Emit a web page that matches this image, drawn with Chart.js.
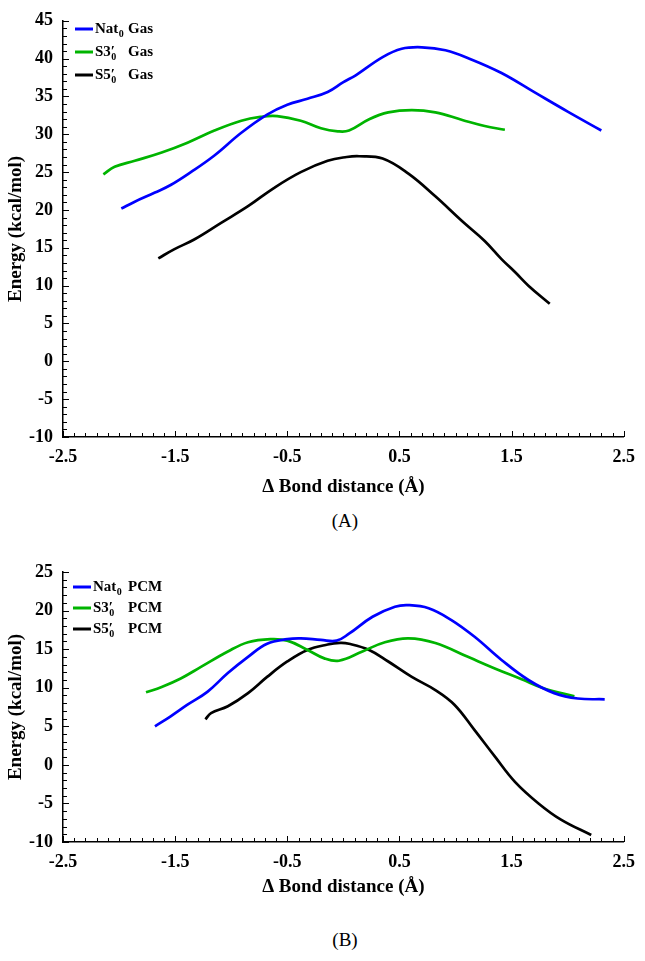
<!DOCTYPE html>
<html>
<head>
<meta charset="utf-8">
<script src="https://cdn.jsdelivr.net/npm/chart.js@4.4.1/dist/chart.umd.min.js"></script>
<style>
  body { margin: 0; background: #fff; width: 645px; height: 961px; position: relative; overflow: hidden; }
  canvas { position: absolute; left: 0; }
  #chartA { top: 0; }
  #chartB { top: 540px; }
  .cap { position: absolute; left: 0; width: 690px; text-align: center;
         font: 19px 'Liberation Serif', 'Times New Roman', serif; color: #000; line-height: 22px; }
  #capA { top: 510px; }
  #capB { top: 929px; }
</style>
</head>
<body>
<canvas id="chartA" width="645" height="500"></canvas>
<canvas id="chartB" width="645" height="360"></canvas>
<div class="cap" id="capA">(A)</div>
<div class="cap" id="capB">(B)</div>
<script>
// ---- data ----
const xTicks = [-2.5, -1.5, -0.5, 0.5, 1.5, 2.5];
const yTicksA = [-10, -5, 0, 5, 10, 15, 20, 25, 30, 35, 40, 45];
const yTicksB = [-10, -5, 0, 5, 10, 15, 20, 25];

const seriesNames = ['Nat', 'S3', 'S5'];
const seriesPrime = [false, true, true];
const seriesSub = '0';
const suffixA = 'Gas';
const suffixB = 'PCM';
const lineColors = ['#0000FF', '#00B400', '#000000'];

// (A) gas phase
const natGasX = [-1.98, -1.86, -1.68, -1.54, -1.36, -1.15, -0.91, -0.68, -0.50, -0.32, -0.14, 0.00, 0.11, 0.35, 0.52, 0.70, 0.91, 1.14, 1.41, 1.71, 2.00, 2.30];
const natGasY = [20.2, 21.1, 22.3, 23.3, 25.0, 27.2, 30.2, 32.6, 33.9, 34.7, 35.6, 36.9, 37.8, 40.2, 41.3, 41.5, 41.1, 39.9, 38.1, 35.5, 33.0, 30.5];
const s3GasX = [-2.14, -2.04, -1.86, -1.62, -1.39, -1.15, -0.91, -0.74, -0.59, -0.38, -0.20, -0.05, 0.05, 0.23, 0.40, 0.61, 0.82, 1.06, 1.26, 1.44];
const s3GasY = [24.7, 25.7, 26.5, 27.6, 28.9, 30.5, 31.8, 32.3, 32.4, 31.8, 30.8, 30.4, 30.5, 32.0, 32.9, 33.2, 32.9, 31.9, 31.1, 30.6];
const s5GasX = [-1.65, -1.51, -1.33, -1.09, -0.85, -0.62, -0.38, -0.14, 0.03, 0.14, 0.35, 0.58, 0.82, 1.06, 1.26, 1.41, 1.53, 1.65, 1.84];
const s5GasY = [13.6, 14.8, 16.1, 18.3, 20.5, 22.9, 25.0, 26.5, 27.0, 27.1, 26.8, 24.8, 21.8, 18.5, 15.9, 13.5, 11.8, 10.0, 7.6];

// (B) PCM
const natPcmX = [-1.68, -1.54, -1.39, -1.21, -1.03, -0.85, -0.68, -0.50, -0.38, -0.20, -0.06, 0.05, 0.26, 0.46, 0.58, 0.76, 0.96, 1.17, 1.41, 1.65, 1.88, 2.09, 2.33];
const natPcmY = [5.0, 6.3, 7.8, 9.5, 11.9, 14.0, 15.7, 16.3, 16.4, 16.2, 16.1, 17.0, 19.2, 20.5, 20.7, 20.3, 18.8, 16.6, 13.6, 11.0, 9.3, 8.6, 8.5];
const s3PcmX = [-1.76, -1.62, -1.45, -1.27, -1.03, -0.85, -0.65, -0.50, -0.32, -0.17, -0.04, 0.17, 0.37, 0.58, 0.82, 1.11, 1.35, 1.59, 1.79, 2.06];
const s3PcmY = [9.4, 10.1, 11.2, 12.7, 14.7, 15.9, 16.3, 16.1, 14.9, 13.8, 13.5, 14.7, 15.9, 16.4, 15.8, 14.0, 12.5, 11.1, 9.9, 8.9];
const s5PcmX = [-1.23, -1.18, -1.03, -0.85, -0.68, -0.50, -0.32, -0.14, -0.03, 0.05, 0.23, 0.40, 0.61, 0.82, 0.99, 1.17, 1.35, 1.53, 1.74, 1.94, 2.21];
const s5PcmY = [5.9, 6.7, 7.6, 9.3, 11.4, 13.4, 14.9, 15.6, 15.8, 15.7, 14.9, 13.4, 11.4, 9.7, 7.8, 4.5, 1.1, -2.2, -5.0, -7.1, -9.1];

const FONT = "'Liberation Serif', 'Times New Roman', serif";

function pairs(xs, ys) {
  return xs.map((x, i) => ({ x: x, y: ys[i] }));
}

// Excel-style tick marks pointing into the plot
const innerTicks = {
  id: 'innerTicks',
  afterDraw(chart) {
    const { ctx, chartArea: a, scales: { x, y } } = chart;
    ctx.save();
    ctx.strokeStyle = '#000';
    ctx.lineWidth = 1;
    ctx.beginPath();
    for (let i = 0; i <= 50; i++) {
      const px = Math.round(x.getPixelForValue(x.min + i * 0.1)) + 0.5;
      const len = i % 10 === 0 ? 6 : 4;
      ctx.moveTo(px, a.bottom);
      ctx.lineTo(px, a.bottom - len);
    }
    for (let v = y.min; v <= y.max; v++) {
      const py = Math.round(y.getPixelForValue(v)) + 0.5;
      const len = v % 5 === 0 ? 6 : 4;
      ctx.moveTo(a.left, py);
      ctx.lineTo(a.left + len, py);
    }
    ctx.stroke();
    ctx.restore();
  }
};

// legend with subscripts and primes
const subLegend = {
  id: 'subLegend',
  afterDraw(chart, args, o) {
    const ctx = chart.ctx;
    ctx.save();
    ctx.textBaseline = 'middle';
    chart.data.datasets.forEach((ds, i) => {
      const yy = o.top + i * o.gap;
      ctx.strokeStyle = ds.borderColor;
      ctx.lineWidth = 3;
      ctx.beginPath();
      ctx.moveTo(o.lineX0, yy);
      ctx.lineTo(o.lineX1, yy);
      ctx.stroke();
      ctx.fillStyle = '#000';
      ctx.font = 'bold 15px ' + FONT;
      ctx.fillText(seriesNames[i], o.textX, yy);
      let px = o.textX + ctx.measureText(seriesNames[i]).width;
      if (seriesPrime[i]) {
        ctx.fillText('\u2032', px, yy);
      }
      ctx.font = 'bold 10px ' + FONT;
      ctx.fillText(seriesSub, px + 0.5, yy + 5);
      ctx.font = 'bold 15px ' + FONT;
      ctx.fillText(o.suffix, o.suffixX, yy);
    });
    ctx.restore();
  }
};

function makeChart(id, sets, yMin, yMax, yTicks, padTop, xAxisH, legend) {
  return new Chart(document.getElementById(id), {
    type: 'scatter',
    data: {
      datasets: sets.map((d, i) => ({
        data: d,
        showLine: true,
        borderColor: lineColors[i],
        backgroundColor: lineColors[i],
        borderWidth: 2.7,
        pointRadius: 0,
        tension: 0.4
      }))
    },
    options: {
      responsive: false,
      animation: false,
      layout: { padding: { top: padTop, right: 19, left: 0, bottom: 0 } },
      plugins: {
        legend: { display: false },
        tooltip: { enabled: false },
        subLegend: legend
      },
      scales: {
        x: {
          type: 'linear',
          min: -2.5,
          max: 2.5,
          afterBuildTicks: s => { s.ticks = xTicks.map(v => ({ value: v })); },
          afterFit: s => { s.height = xAxisH; },
          grid: { display: false, drawTicks: false },
          border: { display: true, color: '#000', width: 1.5 },
          ticks: {
            color: '#000',
            padding: 10,
            maxRotation: 0,
            font: { family: FONT, size: 18, weight: 'bold' },
            callback: v => String(v)
          },
          title: {
            display: true,
            text: '\u0394 Bond distance (\u00C5)',
            color: '#000',
            padding: { top: 2, bottom: 2 },
            font: { family: FONT, size: 19, weight: 'bold' }
          }
        },
        y: {
          min: yMin,
          max: yMax,
          afterBuildTicks: s => { s.ticks = yTicks.map(v => ({ value: v })); },
          afterFit: s => { s.width = 63; },
          grid: { display: false, drawTicks: false },
          border: { display: true, color: '#000', width: 1.5 },
          ticks: {
            color: '#000',
            padding: 10,
            font: { family: FONT, size: 18, weight: 'bold' },
            callback: v => String(v)
          },
          title: {
            display: true,
            text: 'Energy (kcal/mol)',
            color: '#000',
            padding: { top: 5, bottom: 0 },
            font: { family: FONT, size: 19, weight: 'bold' }
          }
        }
      }
    },
    plugins: [innerTicks, subLegend]
  });
}

makeChart('chartA',
  [pairs(natGasX, natGasY), pairs(s3GasX, s3GasY), pairs(s5GasX, s5GasY)],
  -10, 45, yTicksA, 15, 63,
  { top: 29, gap: 23, lineX0: 75, lineX1: 93, textX: 95, suffixX: 128, suffix: suffixA });

makeChart('chartB',
  [pairs(natPcmX, natPcmY), pairs(s3PcmX, s3PcmY), pairs(s5PcmX, s5PcmY)],
  -10, 25, yTicksB, 32, 58,
  { top: 47, gap: 21, lineX0: 73, lineX1: 91, textX: 93, suffixX: 128, suffix: suffixB });
</script>
</body>
</html>
